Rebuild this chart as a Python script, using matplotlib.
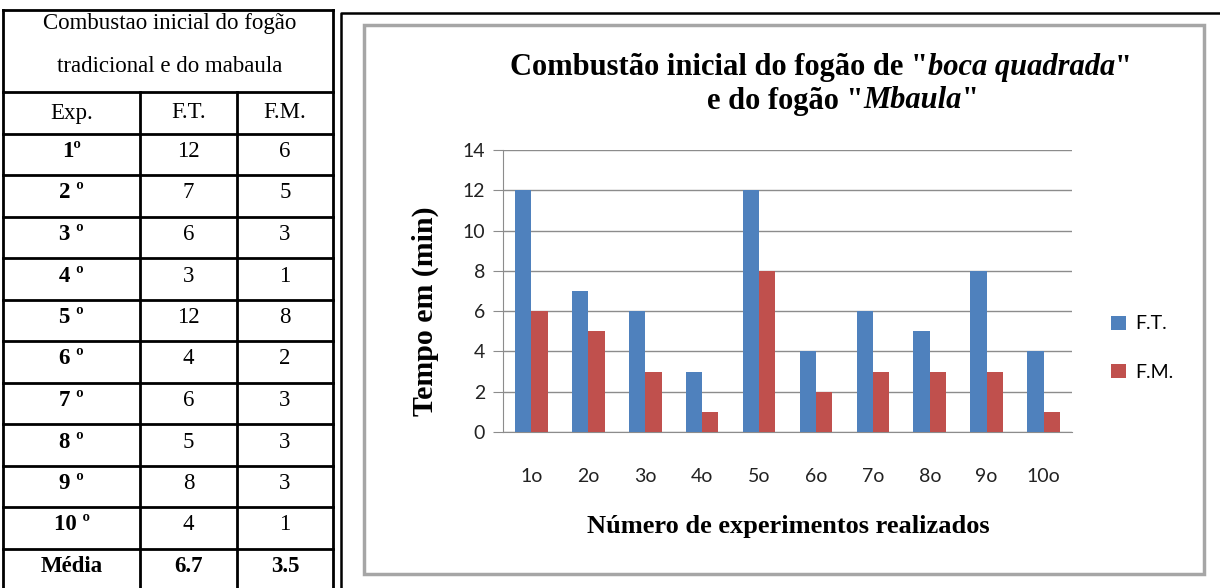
# Combustão inicial: tabela + gráfico de barras (F.T. vs F.M.)

import numpy as np
import matplotlib.pyplot as plt
from matplotlib.patches import Rectangle

plt.rcParams['font.family'] = ['Liberation Serif', 'DejaVu Sans']

# dados
exp_labels = ['1º', '2 º', '3 º', '4 º', '5 º', '6 º', '7 º', '8 º', '9 º', '10 º']
tick_labels = ['1o', '2o', '3o', '4o', '5o', '6o', '7o', '8o', '9o', '10o']
ft_vals = [12, 7, 6, 3, 12, 4, 6, 5, 8, 4]
fm_vals = [6, 5, 3, 1, 8, 2, 3, 3, 3, 1]
media_vals = ['6.7', '3.5']
series_names = ['F.T.', 'F.M.']

blue = '#4F81BD'
red = '#C0504D'
grid_gray = '#8c8c8c'

fig = plt.figure(figsize=(12.2, 5.88), dpi=100)

# fundo em coordenadas de pixel
bg = fig.add_axes([0, 0, 1, 1])
bg.set_xlim(0, 1220)
bg.set_ylim(588, 0)
bg.axis('off')


# texto com partes em itálico, centrado em (xc, yc)
def mixed_text(parts, xc, yc, size):
    r = fig.canvas.get_renderer()
    objs = []
    total = 0
    for s, italic in parts:
        t = bg.text(0, yc, s, fontsize=size, fontweight='bold', va='center', ha='left',
                    fontstyle='italic' if italic else 'normal')
        wpx = t.get_window_extent(renderer=r).width
        objs.append((t, wpx))
        total += wpx
    x0 = xc - total / 2
    for t, wpx in objs:
        t.set_x(x0)
        x0 += wpx


# ---- tabela à esquerda ----
col_x = [3, 140, 237, 333]
row_y = [92 + i * 41.5 for i in range(12)]
lw_t = 2
bg.plot([3, 333], [10, 10], color='k', lw=lw_t)
bg.plot([3, 3], [10, 588], color='k', lw=lw_t)
bg.plot([333, 333], [10, 588], color='k', lw=lw_t)
for y in row_y:
    bg.plot([3, 333], [y, y], color='k', lw=lw_t)
for x in col_x[1:3]:
    bg.plot([x, x], [row_y[0], 588], color='k', lw=lw_t)

fs_t = 16.5
mid = [(col_x[i] + col_x[i + 1]) / 2 for i in range(3)]
bg.text(170, 24, 'Combustao inicial do fogão', ha='center', va='center', fontsize=fs_t)
bg.text(170, 66, 'tradicional e do mabaula', ha='center', va='center', fontsize=fs_t)
for i, h in enumerate(['Exp.'] + series_names):
    bg.text(mid[i], row_y[0] + 21, h, ha='center', va='center', fontsize=fs_t)
for r in range(10):
    yc = row_y[r + 1] + 18
    bg.text(mid[0], yc, exp_labels[r], ha='center', va='center', fontsize=fs_t, fontweight='bold')
    bg.text(mid[1], yc, str(ft_vals[r]), ha='center', va='center', fontsize=fs_t)
    bg.text(mid[2], yc, str(fm_vals[r]), ha='center', va='center', fontsize=fs_t)
yc = row_y[11] + 18
bg.text(mid[0], yc, 'Média', ha='center', va='center', fontsize=fs_t, fontweight='bold')
bg.text(mid[1], yc, media_vals[0], ha='center', va='center', fontsize=fs_t, fontweight='bold')
bg.text(mid[2], yc, media_vals[1], ha='center', va='center', fontsize=fs_t, fontweight='bold')

# ---- moldura do gráfico ----
bg.plot([341, 341, 1220], [588, 13, 13], color='k', lw=1.8)
bg.add_patch(Rectangle((364, 25), 840, 549, fill=False, edgecolor='#a6a6a6', lw=2.5))

# títulos
mixed_text([('Combustão inicial do fogão de "', False), ('boca quadrada', True), ('"', False)],
           821, 68, 22)
mixed_text([('e do fogão "', False), ('Mbaula', True), ('"', False)], 843, 101, 22)
bg.text(425, 311, 'Tempo em (min)', rotation=90, ha='center', va='center', fontsize=21.5, fontweight='bold')
bg.text(788, 527, 'Número de experimentos realizados', ha='center', va='center',
        fontsize=19, fontweight='bold')

# ---- gráfico de barras ----
ax = fig.add_axes([503 / 1220, (588 - 432) / 588, 569 / 1220, 282 / 588])
x = np.arange(len(ft_vals))
w = 0.2857
b1 = ax.bar(x - w / 2, ft_vals, w, color=blue, label=series_names[0], zorder=3)
b2 = ax.bar(x + w / 2, fm_vals, w, color=red, label=series_names[1], zorder=3)
ax.set_xlim(-0.5, 9.5)
ax.set_ylim(0, 14)
ax.set_yticks(range(0, 15, 2))
ax.set_xticks(x)
ax.set_xticklabels(tick_labels)
ax.yaxis.grid(True, color=grid_gray, lw=1)
ax.set_axisbelow(True)
for s in ['top', 'right']:
    ax.spines[s].set_visible(False)
ax.spines['left'].set_color(grid_gray)
ax.spines['bottom'].set_color(grid_gray)
ax.tick_params(axis='y', length=7, color=grid_gray, pad=6, labelsize=14)
ax.tick_params(axis='x', length=0, pad=26, labelsize=14)
for lab in ax.get_xticklabels() + ax.get_yticklabels():
    lab.set_fontfamily('Lato')
    lab.set_color('#222222')

leg = fig.legend(handles=[b1, b2], loc='center left', bbox_to_anchor=(1111 / 1220, 1 - 348 / 588),
                 frameon=False, handlelength=0.75, handleheight=0.75, handletextpad=0.5,
                 labelspacing=1.6, borderpad=0, borderaxespad=0,
                 prop={'family': 'Lato', 'size': 14})

fig.savefig('out.png', dpi=100)
